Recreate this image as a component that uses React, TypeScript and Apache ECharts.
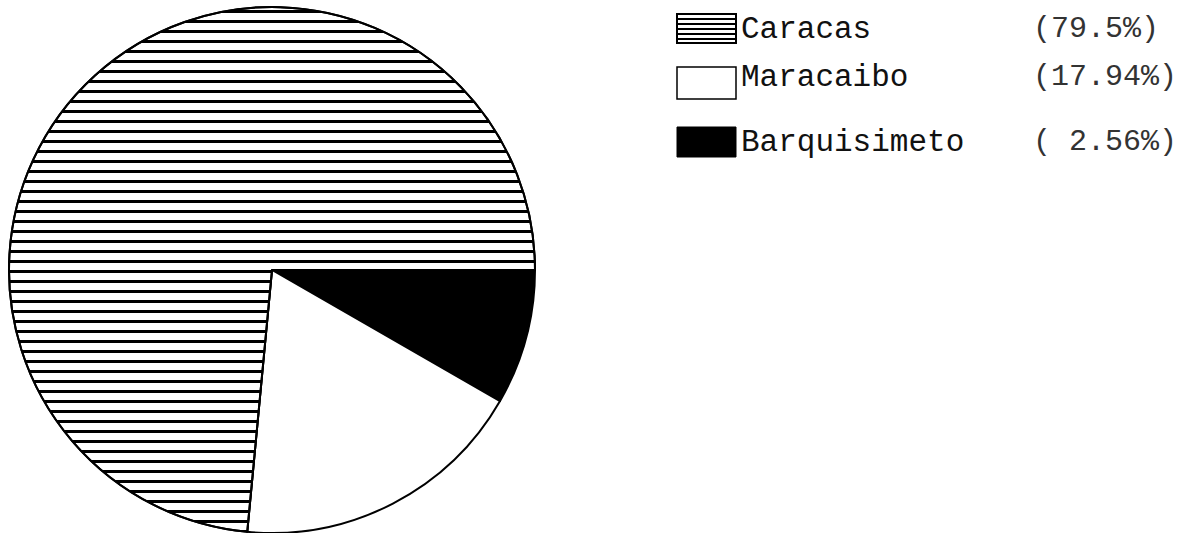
import React, { useEffect, useRef } from "react";
import * as echarts from "echarts";

// Slice sizes as drawn in the picture (degrees of arc converted to shares)
const categories = ["Barquisimeto", "Maracaibo", "Caracas"];
const sliceValues = [8.3, 18.2, 73.5];
// Legend labels as printed
const legendNames = ["Caracas", "Maracaibo", "Barquisimeto"];
const legendPercents = ["(79.5%)", "(17.94%)", "( 2.56%)"];

const FONT = "'Liberation Mono', 'DejaVu Sans Mono', monospace";

export default function App() {
  const ref = useRef<HTMLDivElement>(null);
  useEffect(() => {
    if (!ref.current) return;
    const chart = echarts.init(ref.current, undefined, { renderer: "svg" });
    const styles: Record<string, any> = {
      Barquisimeto: { color: "#000" },
      Maracaibo: { color: "#fff" },
      Caracas: {
        color: "#fff",
        decal: {
          symbol: "rect",
          symbolSize: 1,
          dashArrayX: [[1, 0]],
          dashArrayY: [2.5, 6.5],
          rotation: 0,
          color: "#000",
          backgroundColor: "#fff",
        },
      },
    };
    const boxX = 677;
    const boxW = 59;
    const boxes = [
      { y: 14, h: 29 },
      { y: 67, h: 32 },
      { y: 127, h: 30 },
    ];
    const textY = [29, 77, 142];
    const graphics: any[] = [];
    // Caracas hatched box
    graphics.push({
      type: "rect",
      shape: { x: boxX, y: boxes[0].y, width: boxW, height: boxes[0].h },
      style: { fill: "#fff", stroke: "#000", lineWidth: 2 },
    });
    for (let k = 1; k < 6; k++) {
      const yy = boxes[0].y + k * 5;
      graphics.push({
        type: "line",
        shape: { x1: boxX, y1: yy, x2: boxX + boxW, y2: yy },
        style: { stroke: "#000", lineWidth: 1.8 },
      });
    }
    graphics.push({
      type: "rect",
      shape: { x: boxX, y: boxes[1].y, width: boxW, height: boxes[1].h },
      style: { fill: "#fff", stroke: "#000", lineWidth: 1.5 },
    });
    graphics.push({
      type: "rect",
      shape: { x: boxX, y: boxes[2].y, width: boxW, height: boxes[2].h },
      style: { fill: "#000", stroke: "#000", lineWidth: 1 },
    });
    legendNames.forEach((n, i) => {
      graphics.push({
        type: "text",
        x: 741,
        y: textY[i],
        style: {
          text: n,
          font: `31px ${FONT}`,
          fill: "#111",
          verticalAlign: "middle",
          align: "left",
        },
      });
      graphics.push({
        type: "text",
        x: 1033,
        y: textY[i],
        style: {
          text: legendPercents[i],
          font: `30px ${FONT}`,
          fill: "#333",
          verticalAlign: "middle",
          align: "left",
        },
      });
    });

    chart.setOption({
      animation: false,
      backgroundColor: "#fff",
      graphic: graphics,
      series: [
        {
          type: "pie",
          center: [272, 270],
          radius: 263,
          startAngle: 0,
          clockwise: true,
          silent: true,
          label: { show: false },
          labelLine: { show: false },
          itemStyle: { borderColor: "#000", borderWidth: 2 },
          data: categories.map((c, i) => ({
            name: c,
            value: sliceValues[i],
            itemStyle: styles[c],
          })),
        },
      ],
    });
    return () => chart.dispose();
  }, []);
  return (
    <div
      ref={ref}
      style={{ position: "fixed", left: 0, top: 0, width: 1185, height: 533 }}
    />
  );
}
